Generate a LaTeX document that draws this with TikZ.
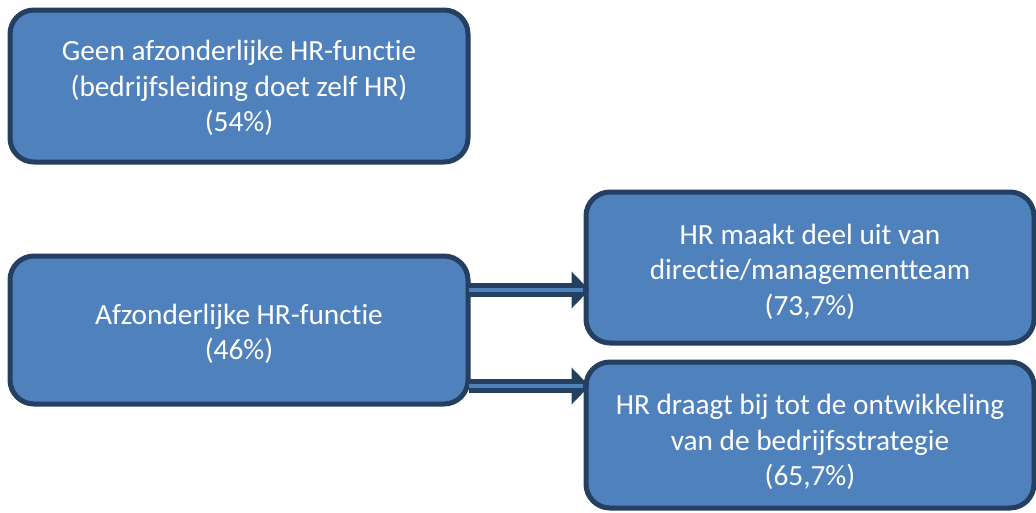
\documentclass[tikz,border=0pt]{standalone}
\usepackage{fontspec}
\setmainfont{Carlito}[Ligatures=NoCommon]
\usetikzlibrary{calc,arrows.meta}
\definecolor{boxfill}{HTML}{4F81BD}
\definecolor{boxline}{HTML}{243F60}
\tikzset{
  hrbox/.style={draw=boxline, line width=5pt, fill=boxfill, rounded corners=24pt, inner sep=0pt},
  hrtext/.style={text=white, align=center, font=\fontsize{29.3}{35.5}\selectfont, inner sep=0pt},
  arrowshaft/.style={draw=boxline, line width=14pt,
    -{Triangle[length=18pt,width=36pt,fill=boxline]}},
  arrowcore/.style={draw=boxfill, line width=4pt}
}
\begin{document}
\begin{tikzpicture}[x=1pt,y=-1pt]
\useasboundingbox (0,0) rectangle (1036,512);
\node[hrbox, minimum width=458pt, minimum height=152pt,
  label={[hrtext, yshift=-2pt]center:{Geen afzonderlijke HR-functie\\(bedrijfsleiding doet zelf HR)\\(54\%)}}] (b1) at (239,86) {};
\node[hrbox, minimum width=458pt, minimum height=148pt,
  label={[hrtext, yshift=-4pt]center:{Afzonderlijke HR-functie\\(46\%)}}] (b2) at (239,330) {};
\node[hrbox, minimum width=448pt, minimum height=151pt,
  label={[hrtext, yshift=-4pt]center:{HR maakt deel uit van\\directie/managementteam\\(73,7\%)}}] (b3) at (810,267.5) {};
\node[hrbox, minimum width=448pt, minimum height=146pt,
  label={[hrtext, yshift=-7pt]center:{HR draagt bij tot de ontwikkeling\\van de bedrijfsstrategie\\(65,7\%)}}] (b4) at (810,435) {};
\coordinate (a1s) at ($(b2.east |- 0,290)+(-2,0)$);
\coordinate (a1e) at ($(b3.west |- 0,290)+(6,0)$);
\coordinate (a2s) at ($(b2.east |- 0,386)+(-2,0)$);
\coordinate (a2e) at ($(b4.west |- 0,386)+(6,0)$);
\draw[arrowshaft] (a1s) -- (a1e);
\draw[arrowcore] (a1s) -- ($(a1e)+(-7,0)$);
\draw[arrowshaft] (a2s) -- (a2e);
\draw[arrowcore] (a2s) -- ($(a2e)+(-7,0)$);
\end{tikzpicture}
\end{document}
